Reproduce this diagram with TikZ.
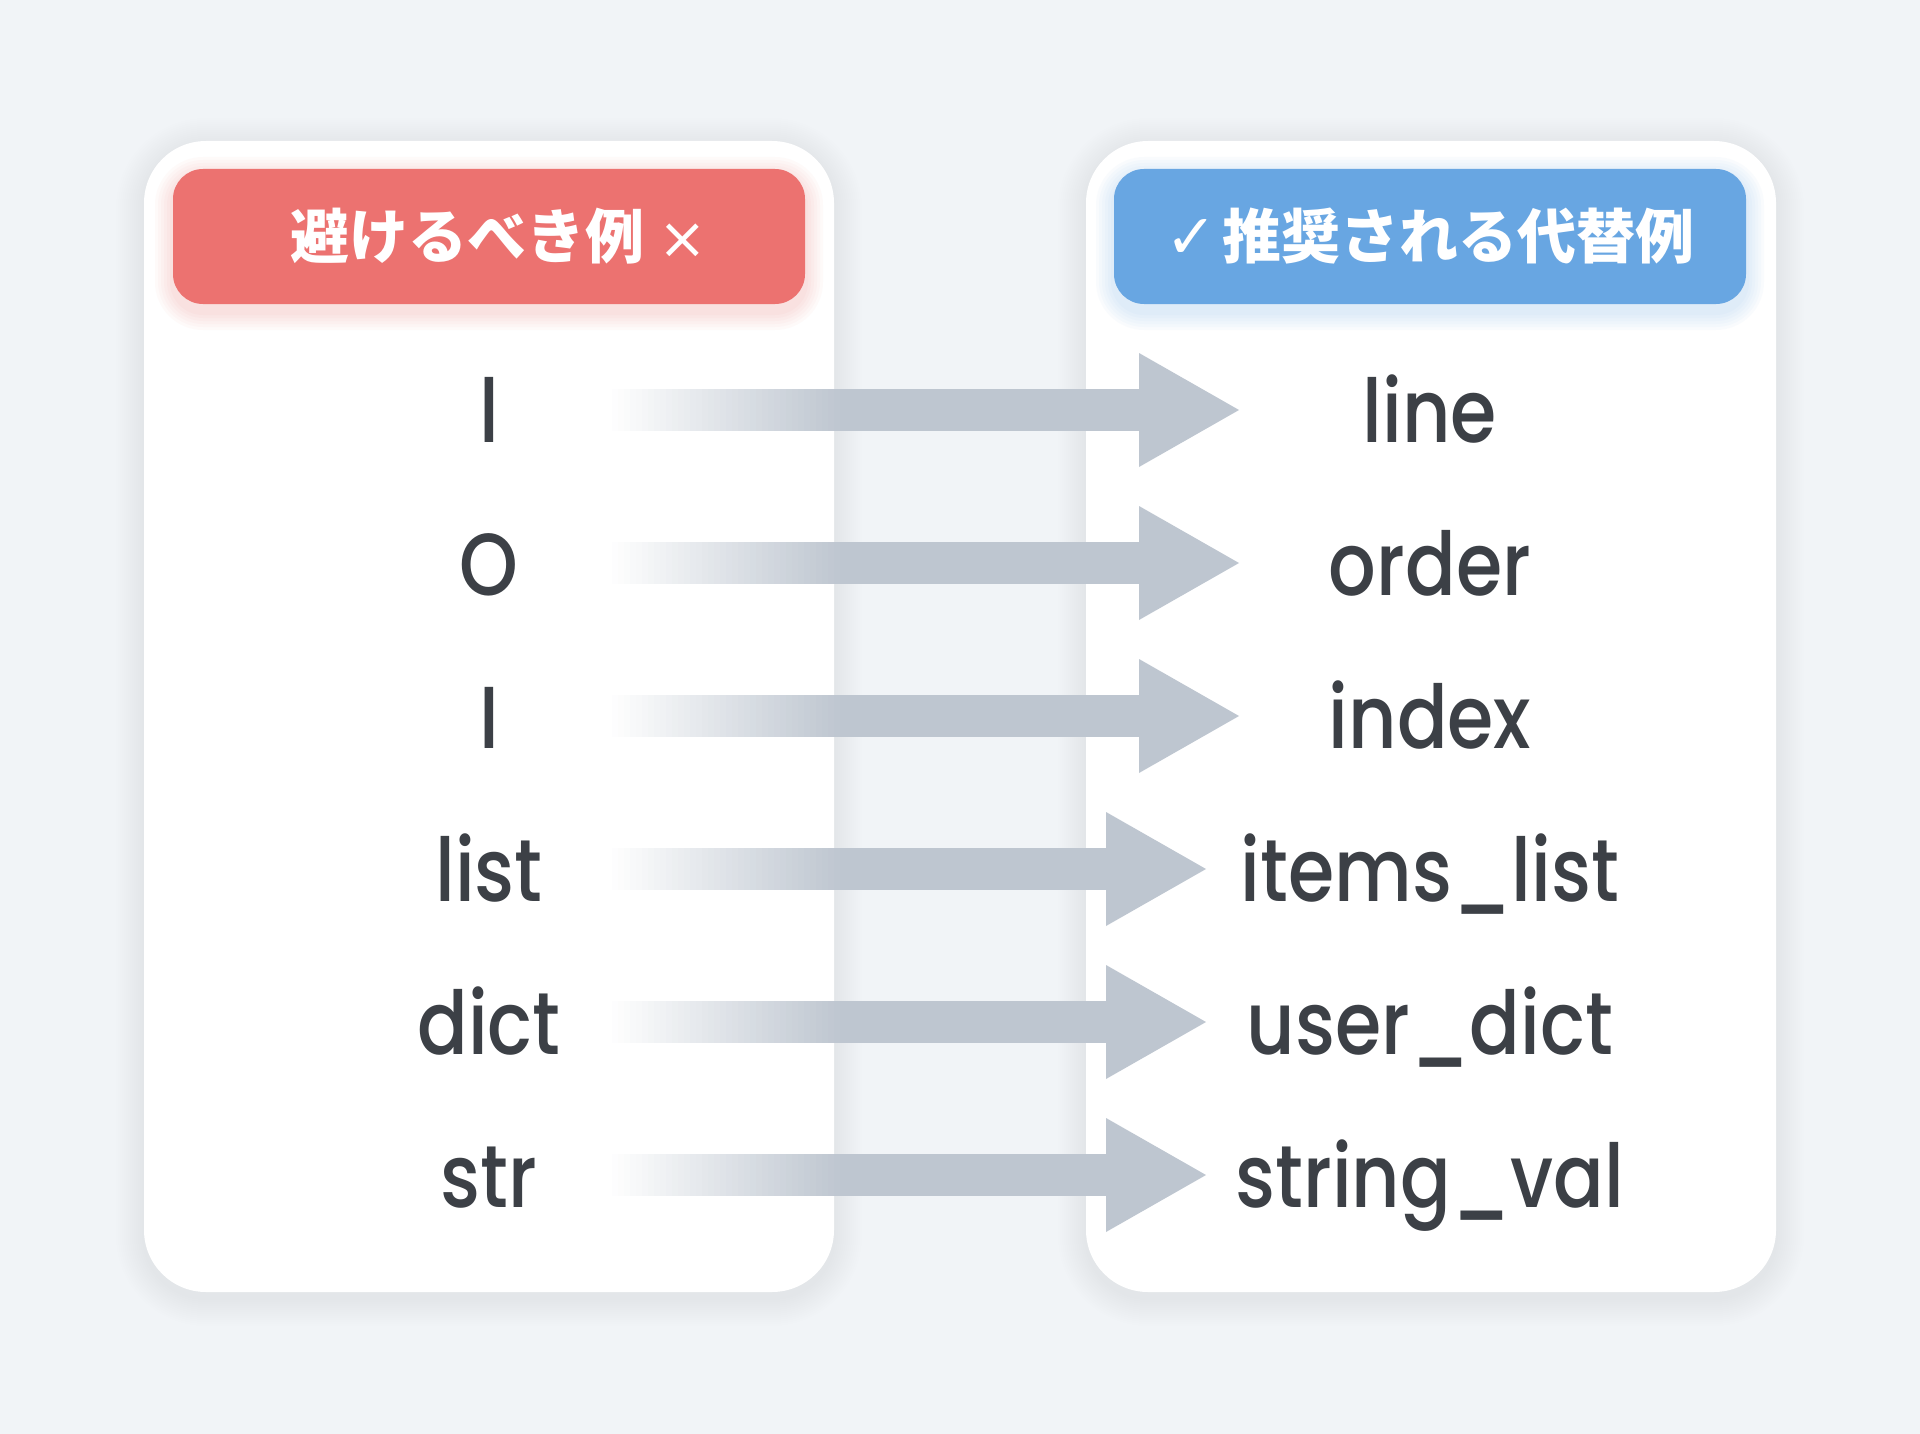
\documentclass[tikz,border=0pt]{standalone}
\usepackage{fontspec}
\setmainfont{Poppins}[UprightFont=* Medium, FakeStretch=0.85]
\newfontfamily\cjk{Noto Sans CJK JP}
\newfontfamily\sym{DejaVu Sans}
\usetikzlibrary{calc}
\definecolor{bgc}{RGB}{241,244,247}
\definecolor{redc}{RGB}{236,114,112}
\definecolor{bluec}{RGB}{104,166,226}
\definecolor{arrc}{RGB}{190,198,208}
\definecolor{txtc}{RGB}{60,64,70}
\tikzset{
  card/.style={fill=white, draw=none, rounded corners=62pt, minimum width=690pt, minimum height=1151pt, inner sep=0pt},
  hdr/.style={draw=none, rounded corners=30pt, minimum width=632pt, minimum height=135pt, inner sep=0pt, text=white,
    font=\cjk\bfseries\fontsize{59pt}{64pt}\selectfont},
  ltxt/.style={anchor=base, text=txtc, inner sep=0pt, font=\fontsize{88pt}{92pt}\selectfont},
  rtxt/.style={anchor=base, text=txtc, inner sep=0pt, font=\fontsize{88pt}{92pt}\selectfont},
}
\begin{document}
\begin{tikzpicture}[x=1pt,y=-1pt]
\fill[bgc] (0,0) rectangle (1920,1434);
\useasboundingbox (0,0) rectangle (1920,1434);

% card shadows
\foreach \cx in {144,1086}{
  \foreach \k in {1,...,14}{
    \fill[black, opacity=0.0055, rounded corners=62pt+\k*2pt] (\cx-\k*2,141+5-\k*2) rectangle (\cx+690+\k*2,1292+6+\k*2);
  }
}
% cards
\node[card] (lcard) at (489,716.5) {};
\node[card] (rcard) at (1431,716.5) {};

% header glows
\foreach \k in {1,...,6}{
  \fill[redc, opacity=0.035, rounded corners=30pt+\k*3pt] (173-\k*3,175-\k*3) rectangle (805+\k*3,312+\k*3);
  \fill[bluec, opacity=0.035, rounded corners=30pt+\k*3pt] (1114-\k*3,175-\k*3) rectangle (1746+\k*3,312+\k*3);
}
\node[hdr, fill=redc] (lhead) at (489,236.5) {\hspace*{20pt}避けるべき例 {\sym\mdseries\fontsize{58pt}{60pt}\selectfont ×}};
\node[hdr, fill=bluec] (rhead) at (1430,236.5) {{\sym\mdseries\fontsize{62pt}{64pt}\selectfont ✓}\hspace{6pt}推奨される代替例};

% rows
\foreach \i/\y/\tip/\a/\b in {1/410/1239/l/line, 2/563/1239/O/order, 3/716/1239/I/index, 4/869/1206/list/items\_list, 5/1022/1206/dict/user\_dict, 6/1175/1206/str/string\_val}{
  \node[ltxt] (L\i) at (489,\y+32) {\a};
  \node[rtxt] (R\i) at (1430,\y+32) {\b};
  \coordinate (s\i) at (612,\y);
  \coordinate (t\i) at (\tip,\y);
  \foreach \j in {0,...,39}{
    \pgfmathsetmacro\pc{min(100,(\j+1)*2.6)}
    \fill[arrc!\pc!white] ($(s\i)+(\j*6,-21)$) rectangle ($(s\i)+(\j*6+6.6,21)$);
  }
  \fill[arrc] ($(s\i)+(240,-21)$) rectangle ($(t\i)+(-99,21)$);
  \fill[arrc] ($(t\i)+(-100,-57)$) -- (t\i) -- ($(t\i)+(-100,57)$) -- cycle;
}
\end{tikzpicture}
\end{document}
